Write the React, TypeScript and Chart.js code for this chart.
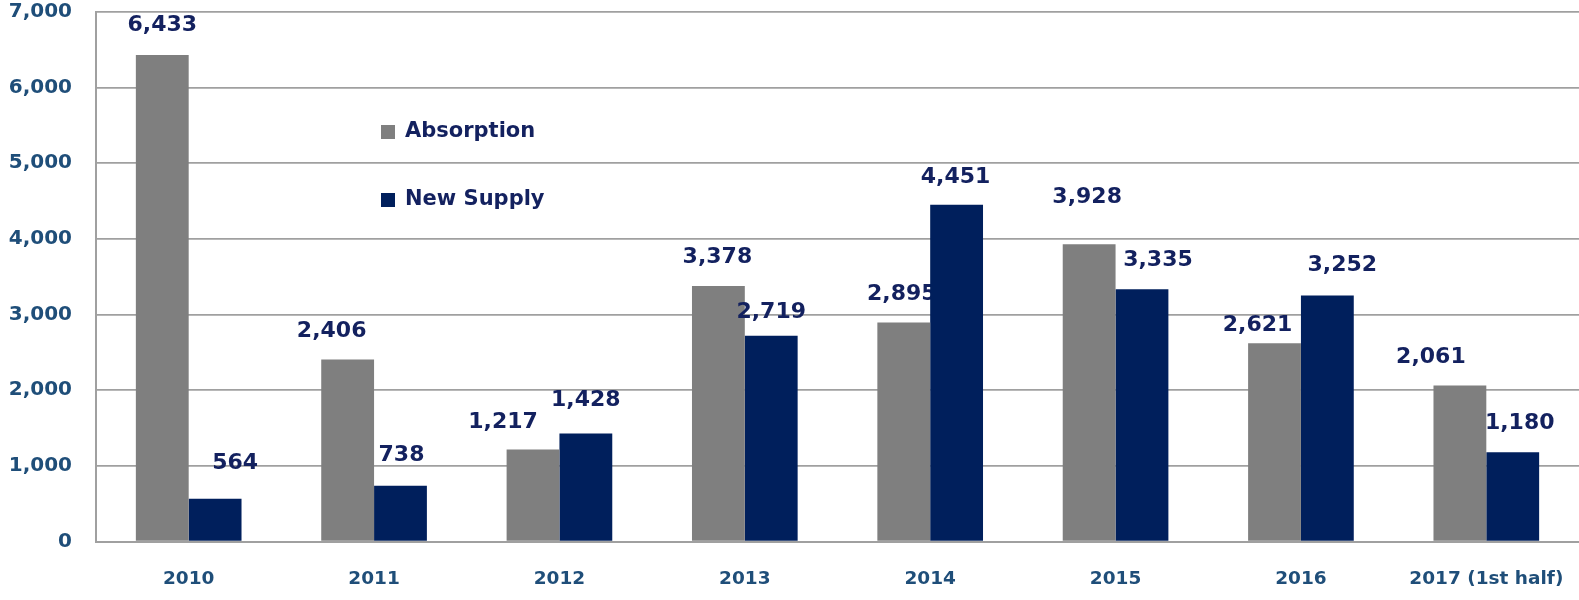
import React, { useEffect, useRef } from "react";
import { Chart, registerables } from "chart.js";

Chart.register(...registerables);

const categories = ["2010", "2011", "2012", "2013", "2014", "2015", "2016", "2017 (1st half)"];
const absorption = [6433, 2406, 1217, 3378, 2895, 3928, 2621, 2061];
const newSupply = [564, 738, 1428, 2719, 4451, 3335, 3252, 1180];
const yTicks = [0, 1000, 2000, 3000, 4000, 5000, 6000, 7000];

// label placement nudges (pixels): horizontal shift and lift above bar top
const absNudgeX = [0, -16, -30, -1, -2, -2, -17, -29];
const absLift = [30, 28, 27, 29, 28, 47, 18, 28];
const supNudgeX = [20, 1, 0, 0, -1, 16, 15, 7];
const supLift = [36, 30, 33, 24, 28, 29, 30, 29];

const GRAY = "#7f7f7f";
const NAVY = "#001f5c";
const LABEL_COLOR = "#13215f";
const TICK_COLOR = "#1f4e79";
const GRID = "#a0a0a0";
const FONT = "'DejaVu Sans', Verdana, sans-serif";

const fmt = (v: number) => v.toLocaleString("en-US");

function drawLabels(chart: any, di: number) {
  const ctx = chart.ctx;
  const ds = chart.data.datasets[di];
  const meta = chart.getDatasetMeta(di);
  const nx = di === 0 ? absNudgeX : supNudgeX;
  const lift = di === 0 ? absLift : supLift;
  ctx.save();
  ctx.font = `bold 22px ${FONT}`;
  ctx.fillStyle = LABEL_COLOR;
  ctx.textAlign = "center";
  ctx.textBaseline = "middle";
  meta.data.forEach((bar: any, i: number) => {
    ctx.fillText(fmt(ds.data[i]), bar.x + nx[i], bar.y - lift[i]);
  });
  ctx.restore();
}

const labelPlugin = {
  id: "valueLabels",
  beforeDatasetsDraw(chart: any) {
    drawLabels(chart, 0);
  },
  afterDatasetsDraw(chart: any) {
    drawLabels(chart, 1);
  },
};

const legendPlugin = {
  id: "innerLegend",
  afterDraw(chart: any) {
    const ctx = chart.ctx;
    const { left, top } = chart.chartArea;
    ctx.save();
    ctx.font = `bold 21px ${FONT}`;
    ctx.textBaseline = "middle";
    ctx.textAlign = "left";
    chart.data.datasets.forEach((ds: any, i: number) => {
      const y = top + 120 + i * 68;
      const x = left + 285;
      ctx.fillStyle = ds.backgroundColor;
      ctx.fillRect(x, y - 7, 14, 14);
      ctx.fillStyle = LABEL_COLOR;
      ctx.fillText(ds.label, x + 24, y);
    });
    ctx.restore();
  },
};

export default function App() {
  const ref = useRef<HTMLCanvasElement | null>(null);
  useEffect(() => {
    if (!ref.current) return;
    const chart = new Chart(ref.current, {
      type: "bar",
      data: {
        labels: categories,
        datasets: [
          { label: "Absorption", data: absorption, backgroundColor: GRAY, barPercentage: 1, categoryPercentage: 0.57 },
          { label: "New Supply", data: newSupply, backgroundColor: NAVY, barPercentage: 1, categoryPercentage: 0.57 },
        ],
      },
      options: {
        animation: false,
        responsive: false,
        maintainAspectRatio: false,
        layout: { padding: { top: 12, right: 0, left: 0, bottom: 0 } },
        plugins: {
          legend: { display: false },
          tooltip: { enabled: false },
          title: { display: false },
        },
        scales: {
          x: {
            grid: { display: false, drawTicks: false },
            border: { display: true, color: GRID, width: 2 },
            ticks: {
              color: TICK_COLOR,
              font: { family: FONT, size: 18.5, weight: "bold" },
              padding: 27,
              maxRotation: 0,
              autoSkip: false,
            },
            afterFit: (s: any) => { s.height = 58.5; s.paddingLeft = 0; s.paddingRight = 0; },
          },
          y: {
            min: 0,
            max: 7000,
            afterBuildTicks: (s: any) => { s.ticks = yTicks.map((v) => ({ value: v })); },
            grid: { color: GRID, lineWidth: 1.7, drawTicks: false },
            border: { display: true, color: GRID, width: 2 },
            ticks: {
              color: TICK_COLOR,
              font: { family: FONT, size: 20, weight: "bold" },
              padding: 24,
              callback: (v: any) => fmt(Number(v)),
            },
            afterFit: (s: any) => { s.width = 96; s.paddingTop = 0; s.paddingBottom = 0; },
          },
        },
      },
      plugins: [labelPlugin, legendPlugin],
    });
    return () => chart.destroy();
  }, []);
  return (
    <div style={{ position: "absolute", left: 0, top: 0, width: 1579, height: 600, background: "#fff" }}>
      <canvas ref={ref} width={1579} height={600} style={{ width: 1579, height: 600, display: "block" }} />
    </div>
  );
}
